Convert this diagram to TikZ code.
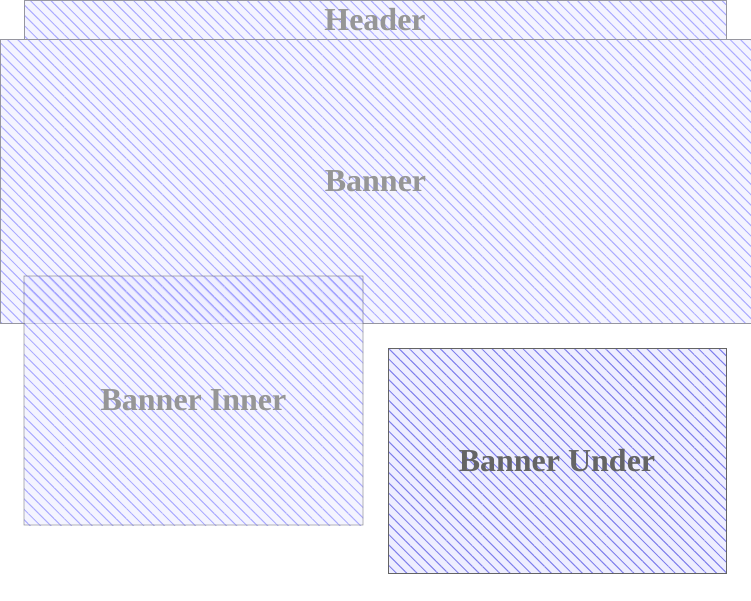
\documentclass[tikz,border=0pt]{standalone}
\usepackage{fontspec}
\setmainfont{Liberation Serif}
\usepackage{xcolor}
\usetikzlibrary{patterns.meta, positioning}
\definecolor{hatchblue}{RGB}{172,172,255}
\definecolor{paleblue}{RGB}{244,244,255}
\definecolor{underblue}{RGB}{128,128,236}
\definecolor{underfill}{RGB}{238,238,255}
\definecolor{labelgray}{RGB}{150,150,150}
\definecolor{edgegray}{RGB}{150,150,160}
\definecolor{darkgray}{RGB}{100,100,100}
\definecolor{inneredge}{RGB}{80,80,90}

\begin{document}
\begin{tikzpicture}[
      x=1pt, y=-1pt,
      label text/.style={text=labelgray, font=\bfseries\fontsize{32}{36}\selectfont},
      hatched/.style={rectangle, line width=0.8pt, anchor=north west, inner sep=0pt, outer sep=0pt,
        pattern={Lines[angle=-45, distance=7.3pt, line width=1pt]}},
      region/.style={hatched, label text, draw=edgegray, preaction={fill=paleblue}, pattern color=hatchblue},
      faded region/.style={hatched, draw=inneredge, preaction={fill=blue!7}, pattern color=blue!55},
      solid region/.style={hatched, label text, draw=darkgray, text=darkgray, preaction={fill=underfill}, pattern color=underblue}
    ]
      \useasboundingbox (0,0) rectangle (751,600);

      % Layout regions
      \node[region, minimum width=702pt, minimum height=39pt] (header) at (24,0) {Header};
      \node[region, minimum width=751pt, minimum height=284pt] (banner) at (0,39) {Banner};
      \begin{scope}[transparency group, opacity=0.6]
        \node[faded region, minimum width=339pt, minimum height=249pt] (inner) at (24,276) {};
      \end{scope}
      \node[label text] (innerlabel) at (inner.center) {Banner Inner};
      \node[solid region, minimum width=338pt, minimum height=225pt] (under) at (388,348) {Banner Under};

    \end{tikzpicture}
\end{document}
